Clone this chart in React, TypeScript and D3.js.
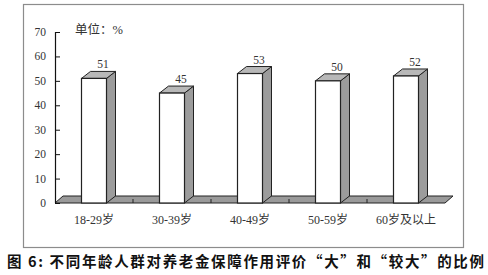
import React from "react";
import * as d3 from "d3";

const categories = ["18-29岁", "30-39岁", "40-49岁", "50-59岁", "60岁及以上"];
const values = [51, 45, 53, 50, 52];
const yTicks = [0, 10, 20, 30, 40, 50, 60, 70];
const unitLabel = "单位：%";
const caption = "图 6: 不同年龄人群对养老金保障作用评价“大”和“较大”的比例";

export default function App() {
  const W = 488, H = 275;
  const y = d3.scaleLinear().domain([0, 70]).range([203, 32]);
  const x = d3.scaleBand<string>().domain(categories).range([55, 445]);
  const dx = 9, dy = -7;
  const bw = 25;
  const serif = "'Liberation Serif', 'Times New Roman', 'Noto Sans CJK SC', serif";
  const y0 = y(0);
  return (
    <svg width={W} height={H} style={{ position: "absolute", left: 0, top: 0, background: "#fff" }}>
      <rect x={23.5} y={4.5} width={440} height={243} fill="#fff" stroke="#8c8c8c" strokeWidth={1.2} />
      {/* floor */}
      <polygon
        points={`55,${y0} 445,${y0} ${445 + 8},${y0 - 7} ${55 + 8},${y0 - 7}`}
        fill="#9a9a9a"
        stroke="#222"
        strokeWidth={1}
      />
      {/* x ticks */}
      {categories.map((c, i) => {
        const bx = (x(c) as number);
        return i === 0 ? null : <line key={"xt" + i} x1={bx} x2={bx} y1={y0} y2={y0 - 4} stroke="#222" />;
      })}
      {/* y axis */}
      <line x1={55.5} x2={55.5} y1={y(70)} y2={y0} stroke="#111" strokeWidth={1.2} />
      {yTicks.map((t) => (
        <g key={"yt" + t}>
          <line x1={55} x2={60} y1={y(t) + 0.5} y2={y(t) + 0.5} stroke="#111" />
          <text x={46} y={y(t) + 4} textAnchor="end" fontFamily={serif} fontSize={11.5} fill="#333">
            {t}
          </text>
        </g>
      ))}
      {/* bars */}
      {categories.map((c, i) => {
        const cx = (x(c) as number) + x.bandwidth() / 2;
        const x0 = cx - bw / 2;
        const x1 = cx + bw / 2;
        const yt = y(values[i]);
        return (
          <g key={"b" + i}>
            <polygon
              points={`${x1},${yt} ${x1 + dx},${yt + dy} ${x1 + dx},${y0 + dy} ${x1},${y0}`}
              fill="#9c9c9c"
              stroke="#222"
              strokeWidth={1}
            />
            <polygon
              points={`${x0},${yt} ${x0 + dx},${yt + dy} ${x1 + dx},${yt + dy} ${x1},${yt}`}
              fill="#b8b8b8"
              stroke="#222"
              strokeWidth={1}
            />
            <rect x={x0} y={yt} width={bw} height={y0 - yt} fill="#fff" stroke="#222" strokeWidth={1.2} />
            <text x={cx + 9} y={yt + dy - 3} textAnchor="middle" fontFamily={serif} fontSize={11.5} fill="#333">
              {values[i]}
            </text>
          </g>
        );
      })}
      {/* category labels */}
      {categories.map((c) => (
        <text
          key={"cl" + c}
          x={(x(c) as number) + x.bandwidth() / 2}
          y={224}
          textAnchor="middle"
          fontFamily={serif}
          fontSize={12}
          fill="#333"
        >
          {c}
        </text>
      ))}
      <text x={75} y={34} fontFamily={serif} fontSize={12.5} fill="#333">
        {unitLabel}
      </text>
      <text
        x={7}
        y={267}
        fontFamily="'Noto Sans CJK SC', sans-serif"
        fontWeight="bold"
        fontSize={14.5}
        fill="#111"
        textLength={477}
        lengthAdjust="spacing"
      >
        {caption}
      </text>
    </svg>
  );
}
